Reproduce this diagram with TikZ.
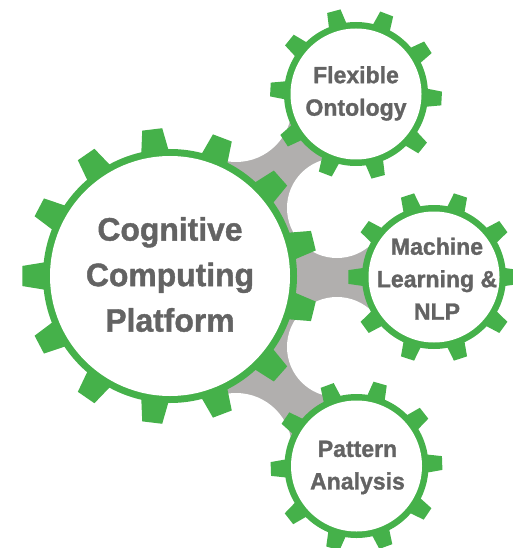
\documentclass[tikz,border=0pt]{standalone}
\usepackage{fontspec}
\newfontfamily\gearfont{Liberation Sans}[FakeStretch=0.98,FakeBold=1.2]
\definecolor{geargreen}{RGB}{69,177,74}
\definecolor{linkgrey}{RGB}{177,175,174}
\definecolor{textgrey}{RGB}{99,99,99}
\begin{document}
\begin{tikzpicture}[x=1pt,y=1pt,
  gearfill/.style={fill=geargreen,draw=none},
  holefill/.style={fill=white,draw=none},
  linkfill/.style={fill=linkgrey,draw=none},
  bigtext/.style={text=textgrey,align=center,inner sep=0pt,font=\gearfont\bfseries\fontsize{32.5}{45.5}\selectfont},
  smalltext/.style={text=textgrey,align=center,inner sep=0pt,font=\gearfont\bfseries\fontsize{23.5}{32.5}\selectfont}]
\useasboundingbox (0,0) rectangle (513,-548);
\coordinate (c0) at (170,-276);
\coordinate (c1) at (356,-94);
\coordinate (c2) at (434,-277);
\coordinate (c3) at (356.5,-466);
\coordinate (w1) at (236,-106);
\coordinate (w2) at (337,-208);
\coordinate (w3) at (337,-347);
\coordinate (w4) at (236,-449);
% grey links
\fill[linkfill] (c0) -- (w1) -- (c1) -- (w2) -- (c2) -- (w3) -- (c3) -- (w4) -- cycle;
\fill[holefill] (w1) circle[radius=56pt] (w2) circle[radius=50pt]
                (w3) circle[radius=50pt] (w4) circle[radius=56pt];
% big gear
\begin{scope}[shift={(c0)}]
  \fill[gearfill] (0,0) circle[radius=127pt];
  \foreach \k in {0,...,12}{
    \pgfmathsetmacro\a{180+\k*360/13}
    \fill[gearfill] (\a-6.5:124) -- (\a-3.9:148) -- (\a+3.9:148) -- (\a+6.5:124) -- cycle;
  }
  \fill[holefill] (0,0) circle[radius=120pt];
\end{scope}
% small gears
\foreach \cc/\off in {c1/33,c2/0,c3/2}{
  \begin{scope}[shift={(\cc)}]
    \fill[gearfill] (0,0) circle[radius=72pt];
    \foreach \k in {0,...,9}{
      \pgfmathsetmacro\a{\off+\k*36}
      \fill[gearfill] (\a-7.8:69) -- (\a-4.6:86) -- (\a+4.6:86) -- (\a+7.8:69) -- cycle;
    }
    \fill[holefill] (0,0) circle[radius=65.5pt];
  \end{scope}
}
% labels
\node[bigtext] (t0) at (170,-274.5) {Cognitive\\Computing\\Platform};
\node[smalltext] (t1) at (356,-93.4) {Flexible\\Ontology};
\node[smalltext] (t2) at (437,-278.7) {Machine\\Learning \&\\NLP};
\node[smalltext] (t3) at (357.5,-467.5) {Pattern\\Analysis};
\end{tikzpicture}
\end{document}
